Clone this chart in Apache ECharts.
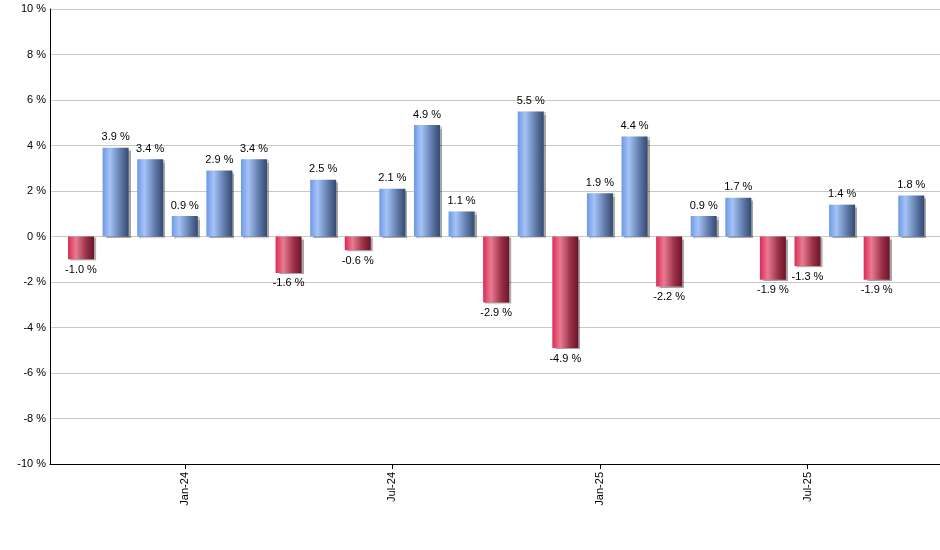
<!DOCTYPE html>
<html>
<head>
<meta charset="utf-8">
<script src="https://cdn.jsdelivr.net/npm/echarts@6/dist/echarts.min.js"></script>
<style>html,body{margin:0;padding:0;background:#fff}#c{width:940px;height:550px}</style>
</head>
<body>
<div id="c"></div>
<script>
const months = ['Oct-23','Nov-23','Dec-23','Jan-24','Feb-24','Mar-24','Apr-24','May-24','Jun-24','Jul-24','Aug-24','Sep-24','Oct-24','Nov-24','Dec-24','Jan-25','Feb-25','Mar-25','Apr-25','May-25','Jun-25','Jul-25','Aug-25','Sep-25','Oct-25'];
const returns = [-1.0, 3.9, 3.4, 0.9, 2.9, 3.4, -1.6, 2.5, -0.6, 2.1, 4.9, 1.1, -2.9, 5.5, -4.9, 1.9, 4.4, -2.2, 0.9, 1.7, -1.9, -1.3, 1.4, -1.9, 1.8];
const tickMonths = ['Jan-24','Jul-24','Jan-25','Jul-25'];
const yTicks = [-10, -8, -6, -4, -2, 0, 2, 4, 6, 8, 10];

const tickIdx = tickMonths.map(m => months.indexOf(m));
const blueGrad = new echarts.graphic.LinearGradient(0,0,1,0,[
  {offset:0,color:'#6d98e6'},{offset:0.28,color:'#a6c3f7'},{offset:0.7,color:'#5e79a8'},{offset:1,color:'#34496f'}]);
const redGrad = new echarts.graphic.LinearGradient(0,0,1,0,[
  {offset:0,color:'#dd2a55'},{offset:0.3,color:'#e97b91'},{offset:0.7,color:'#9a3148'},{offset:1,color:'#6e1428'}]);

const chart = echarts.init(document.getElementById('c'), null, {renderer:'canvas'});
chart.setOption({
  animation:false,
  grid:{left:50,right:0,top:9,bottom:86,containLabel:false},
  xAxis:{
    type:'value', min:-0.896, max:24.83,
    axisLine:{show:true,onZero:false,lineStyle:{color:'#000',width:1}},
    splitLine:{show:false},
    axisTick:{show:true,customValues:tickIdx,length:5,lineStyle:{color:'#000'}},
    axisLabel:{customValues:tickIdx,rotate:90,color:'#000',fontFamily:'Liberation Sans',fontSize:11,margin:8,
      formatter:v=>months[Math.round(v)]}
  },
  yAxis:{
    type:'value', min:yTicks[0], max:yTicks[yTicks.length-1], interval:2,
    axisLine:{show:true,onZero:false,lineStyle:{color:'#000',width:1}},
    axisTick:{show:false},
    splitLine:{show:true,lineStyle:{color:'#c8c8c8',width:1}},
    axisLabel:{color:'#000',fontFamily:'Liberation Sans',fontSize:11,margin:4,formatter:v=>v+' %'}
  },
  series:[{
    type:'bar', barWidth:26,
    data:returns.map((v,i)=>({
      value:[i,v],
      itemStyle:{color: v>=0?blueGrad:redGrad, shadowColor:'rgba(0,0,0,0.35)',shadowOffsetX:2,shadowOffsetY:1,shadowBlur:1},
      label:{position: v>=0?'top':'bottom'}
    })),
    label:{show:true,color:'#000',fontFamily:'Liberation Sans',fontSize:11,distance:5,
      formatter:p=>p.value[1].toFixed(1)+' %'}
  }]
});
</script>
</body>
</html>
